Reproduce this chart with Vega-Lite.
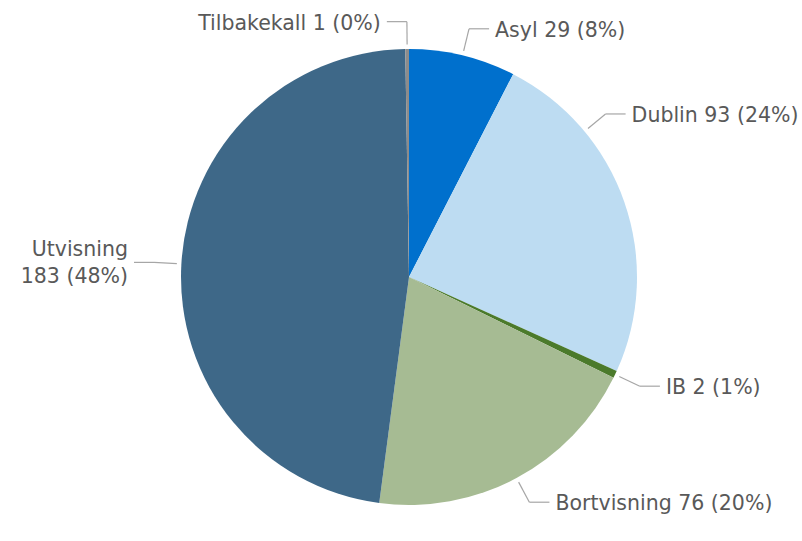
{
  "$schema": "https://vega.github.io/schema/vega-lite/v6.json",
  "width": 786,
  "height": 528,
  "autosize": {"type": "none"},
  "padding": {"left": 16, "top": 13, "right": 0, "bottom": 0},
  "background": "white",
  "config": {"view": {"stroke": null}},
  "data": {
    "values": [
      {"kategori": "Asyl", "antall": 29, "label": "Asyl 29 (8%)"},
      {"kategori": "Dublin", "antall": 93, "label": "Dublin 93 (24%)"},
      {"kategori": "IB", "antall": 2, "label": "IB 2 (1%)"},
      {"kategori": "Bortvisning", "antall": 76, "label": "Bortvisning 76 (20%)"},
      {"kategori": "Utvisning", "antall": 183, "label": "Utvisning|183 (48%)"},
      {"kategori": "Tilbakekall", "antall": 1, "label": "Tilbakekall 1 (0%)"}
    ]
  },
  "transform": [
    {"window": [{"op": "row_number", "as": "rekke"}]},
    {"stack": "antall", "groupby": [], "sort": [{"field": "rekke"}], "as": ["a0", "a1"]},
    {"joinaggregate": [{"op": "sum", "field": "antall", "as": "total"}]},
    {"calculate": "PI*(datum.a0+datum.a1)/datum.total", "as": "mid"},
    {"calculate": "sin(datum.mid)", "as": "sx"},
    {"calculate": "cos(datum.mid)", "as": "sy"},
    {"calculate": "max(length(split(datum.label,'|')[0]), length(split(datum.label+'|','|')[1]))", "as": "len"},
    {"calculate": "datum.sx >= 0 ? min(1.12*datum.sx, 1.579 - 0.0478*datum.len) : max(1.12*datum.sx, -(1.645 - 0.0478*datum.len))", "as": "xe"},
    {"calculate": "(datum.sy >= 0 ? 1 : -1) * sqrt(1.2544 - datum.xe*datum.xe)", "as": "ye"},
    {"calculate": "datum.xe*1.02/1.12", "as": "x1"},
    {"calculate": "datum.ye*1.02/1.12", "as": "y1"},
    {"calculate": "datum.xe + (datum.sx >= 0 ? 0.088 : -0.088)", "as": "xh"}
  ],
  "layer": [
    {
      "mark": {"type": "arc", "radius": 228},
      "encoding": {
        "theta": {"field": "antall", "type": "quantitative", "stack": true},
        "order": {"field": "rekke", "type": "quantitative"},
        "color": {
          "field": "kategori",
          "type": "nominal",
          "legend": null,
          "scale": {
            "domain": ["Asyl", "Dublin", "IB", "Bortvisning", "Utvisning", "Tilbakekall"],
            "range": ["#0070CD", "#BDDCF2", "#4B7A2B", "#A6BB93", "#3E6888", "#8C8C8C"]
          }
        }
      }
    },
    {
      "mark": {"type": "rule", "color": "#A6A6A6", "strokeWidth": 1.2},
      "encoding": {
        "x": {"field": "x1", "type": "quantitative", "axis": null, "scale": {"domain": [-1.72368, 1.72368], "nice": false, "zero": false}},
        "y": {"field": "y1", "type": "quantitative", "axis": null, "scale": {"domain": [-1.15789, 1.15789], "nice": false, "zero": false}},
        "x2": {"field": "xe"},
        "y2": {"field": "ye"}
      }
    },
    {
      "mark": {"type": "rule", "color": "#A6A6A6", "strokeWidth": 1.2},
      "encoding": {
        "x": {"field": "xe", "type": "quantitative"},
        "y": {"field": "ye", "type": "quantitative"},
        "x2": {"field": "xh"}
      }
    },
    {
      "transform": [{"filter": "datum.sx >= 0"}],
      "mark": {"type": "text", "align": "left", "baseline": "middle", "dx": 6, "dy": 2, "font": "DejaVu Sans", "fontSize": 20.5, "color": "#595959"},
      "encoding": {
        "x": {"field": "xh", "type": "quantitative"},
        "y": {"field": "ye", "type": "quantitative"},
        "text": {"field": "label"}
      }
    },
    {
      "transform": [{"filter": "datum.sx < 0 && indexof(datum.label, '|') < 0"}],
      "mark": {"type": "text", "align": "right", "baseline": "middle", "dx": -6, "dy": 2, "font": "DejaVu Sans", "fontSize": 20.5, "color": "#595959"},
      "encoding": {
        "x": {"field": "xh", "type": "quantitative"},
        "y": {"field": "ye", "type": "quantitative"},
        "text": {"field": "label"}
      }
    },
    {
      "transform": [{"filter": "datum.sx < 0 && indexof(datum.label, '|') >= 0"}],
      "mark": {"type": "text", "align": "right", "baseline": "middle", "dx": -6, "dy": -12, "font": "DejaVu Sans", "fontSize": 20.5, "color": "#595959", "lineBreak": "|", "lineHeight": 27},
      "encoding": {
        "x": {"field": "xh", "type": "quantitative"},
        "y": {"field": "ye", "type": "quantitative"},
        "text": {"field": "label"}
      }
    }
  ]
}
